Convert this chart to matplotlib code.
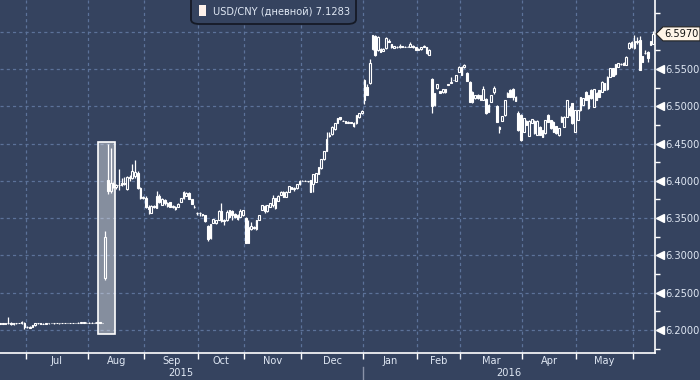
import matplotlib
matplotlib.use("Agg")
import matplotlib.pyplot as plt
from matplotlib.patches import FancyBboxPatch, Polygon, Rectangle
from matplotlib.transforms import blended_transform_factory
import numpy as np

plt.rcParams['font.family'] = ['DejaVu Sans']

# ---------------- data ----------------
month_labels = ["Jun", "Jul", "Aug", "Sep", "Oct", "Nov", "Dec", "Jan", "Feb", "Mar", "Apr", "May", "Jun"]
month_days = [10, 23, 21, 20, 17, 21, 23, 20, 16, 23, 20, 21, 8]
shown_month_labels = [False, True, True, True, True, True, True, True, True, True, True, True, False]
year_labels = ["2015", "2016"]
year_first_month = [0, 7]

opens = [
 6.2085, 6.2088, 6.2086, 6.2090, 6.2100, 6.2075, 6.2090, 6.2093, 6.2095, 6.2090,
 6.2035, 6.2045, 6.2040, 6.2062, 6.2092, 6.2090, 6.2080, 6.2082, 6.2088, 6.2092,
 6.2090, 6.2093, 6.2091, 6.2094, 6.2092, 6.2095, 6.2093, 6.2096, 6.2094, 6.2097,
 6.2095, 6.2102, 6.2098,
 6.2100, 6.2097, 6.2100, 6.2098, 6.2101, 6.2097, 6.2697, 6.4010, 6.3863, 6.3958,
 6.3918, 6.3950, 6.3945, 6.3970, 6.3890, 6.4050, 6.4041, 6.4060, 6.4100, 6.3900, 6.3770,
 6.3775, 6.3650, 6.3575, 6.3660, 6.3635, 6.3800, 6.3675, 6.3740, 6.3705, 6.3710,
 6.3655, 6.3653, 6.3655, 6.3720, 6.3765, 6.3800, 6.3840, 6.3756, 6.3652, 6.3575,
 6.3575, 6.3550, 6.3540, 6.3400, 6.3230, 6.3438, 6.3440, 6.3475, 6.3600, 6.3480,
 6.3470, 6.3510, 6.3590, 6.3557, 6.3485, 6.3520, 6.3540,
 6.3500, 6.3170, 6.3350, 6.3385, 6.3350, 6.3480, 6.3610, 6.3665, 6.3590, 6.3655,
 6.3676, 6.3765, 6.3733, 6.3810, 6.3854, 6.3787, 6.3854, 6.3915, 6.3895, 6.3900, 6.3957,
 6.4000, 6.4002, 6.3998, 6.4010, 6.3960, 6.3990, 6.4095, 6.4170, 6.4288, 6.4400,
 6.4610, 6.4627, 6.4700, 6.4780, 6.4850, 6.4808, 6.4800, 6.4775, 6.4790, 6.4780,
 6.4770, 6.4850, 6.4905,
 6.5083, 6.5262, 6.5307, 6.5762, 6.5940, 6.5750, 6.5770, 6.5740, 6.5775, 6.5880,
 6.5835, 6.5780, 6.5800, 6.5790, 6.5805, 6.5798, 6.5797, 6.5800, 6.5810, 6.5790,
 6.5760, 6.5765, 6.5800, 6.5797, 6.5690, 6.5360, 6.5012, 6.5240, 6.5205, 6.5186,
 6.5226, 6.5285, 6.5316, 6.5350, 6.5340, 6.5460,
 6.5530, 6.5520, 6.5450, 6.5328, 6.5060, 6.5106, 6.5150, 6.5083, 6.5083, 6.5100,
 6.4927, 6.5060, 6.5195, 6.5000, 6.4690, 6.4806, 6.4880, 6.5127, 6.5217, 6.5226,
 6.5127, 6.4905, 6.4880,
 6.4660, 6.4806, 6.4600, 6.4780, 6.4806, 6.4615, 6.4725, 6.4591, 6.4636, 6.4880,
 6.4815, 6.4790, 6.4735, 6.4615, 6.4790, 6.4725, 6.4860, 6.4980, 6.5040, 6.4658,
 6.4815, 6.4949, 6.5016, 6.5195, 6.4972, 6.5217, 6.4995, 6.5180, 6.5217, 6.5195,
 6.5307, 6.5226, 6.5396, 6.5510, 6.5430, 6.5530, 6.5560, 6.5585, 6.5553, 6.5775, 6.5790,
 6.5775, 6.5860, 6.5888, 6.5670, 6.5720, 6.5730, 6.5820, 6.5836,
]
highs = [
 6.2090, 6.2092, 6.2095, 6.2180, 6.2105, 6.2095, 6.2098, 6.2100, 6.2115, 6.2102,
 6.2055, 6.2050, 6.2068, 6.2098, 6.2100, 6.2095, 6.2090, 6.2092, 6.2095, 6.2096,
 6.2095, 6.2097, 6.2096, 6.2098, 6.2097, 6.2099, 6.2098, 6.2100, 6.2099, 6.2101,
 6.2104, 6.2106, 6.2103,
 6.2104, 6.2102, 6.2105, 6.2103, 6.2106, 6.2100, 6.3330, 6.4495, 6.4436, 6.3990,
 6.3960, 6.4154, 6.4040, 6.4050, 6.4060, 6.4080, 6.4220, 6.4280, 6.4130, 6.3920, 6.3800,
 6.3790, 6.3675, 6.3670, 6.3680, 6.3860, 6.3830, 6.3770, 6.3760, 6.3712, 6.3720,
 6.3680, 6.3660, 6.3700, 6.3775, 6.3860, 6.3850, 6.3845, 6.3760, 6.3670, 6.3580,
 6.3580, 6.3560, 6.3545, 6.3410, 6.3425, 6.3490, 6.3480, 6.3605, 6.3700, 6.3490,
 6.3610, 6.3615, 6.3610, 6.3565, 6.3560, 6.3620, 6.3615,
 6.3510, 6.3475, 6.3452, 6.3390, 6.3480, 6.3545, 6.3680, 6.3670, 6.3680, 6.3705,
 6.3810, 6.3775, 6.3805, 6.3860, 6.3860, 6.3858, 6.3935, 6.3920, 6.3915, 6.3960, 6.4005,
 6.4005, 6.4006, 6.4003, 6.4015, 6.4095, 6.4105, 6.4185, 6.4292, 6.4405, 6.4660,
 6.4650, 6.4730, 6.4780, 6.4845, 6.4855, 6.4812, 6.4805, 6.4800, 6.4795, 6.4785,
 6.4885, 6.4915, 6.4955,
 6.5360, 6.5300, 6.5630, 6.5960, 6.5960, 6.5945, 6.5780, 6.5775, 6.5930, 6.5895,
 6.5840, 6.5810, 6.5810, 6.5835, 6.5810, 6.5802, 6.5805, 6.5855, 6.5815, 6.5795,
 6.5775, 6.5800, 6.5818, 6.5800, 6.5765, 6.5375, 6.5180, 6.5300, 6.5210, 6.5235,
 6.5230, 6.5300, 6.5390, 6.5353, 6.5420, 6.5535,
 6.5540, 6.5560, 6.5455, 6.5335, 6.5200, 6.5155, 6.5160, 6.5155, 6.5265, 6.5110,
 6.5025, 6.5155, 6.5265, 6.5010, 6.4735, 6.4875, 6.5085, 6.5185, 6.5225, 6.5240,
 6.5135, 6.4930, 6.4890,
 6.4845, 6.4810, 6.4815, 6.4830, 6.4810, 6.4810, 6.4730, 6.4685, 6.4820, 6.4890,
 6.4820, 6.4800, 6.4740, 6.4710, 6.4865, 6.4865, 6.5090, 6.5000, 6.5045, 6.4955,
 6.4955, 6.5125, 6.5110, 6.5200, 6.5155, 6.5225, 6.5230, 6.5185, 6.5220, 6.5335,
 6.5310, 6.5400, 6.5515, 6.5515, 6.5570, 6.5580, 6.5578, 6.5590, 6.5670, 6.5860, 6.5870,
 6.5950, 6.5925, 6.5940, 6.5680, 6.5760, 6.5740, 6.5880, 6.6005,
]
lows = [
 6.2080, 6.2082, 6.2080, 6.2085, 6.2070, 6.2070, 6.2085, 6.2088, 6.2085, 6.2010,
 6.2025, 6.2028, 6.2038, 6.2060, 6.2085, 6.2075, 6.2078, 6.2080, 6.2085, 6.2088,
 6.2086, 6.2089, 6.2087, 6.2090, 6.2088, 6.2090, 6.2089, 6.2091, 6.2090, 6.2093,
 6.2092, 6.2096, 6.2094,
 6.2095, 6.2093, 6.2096, 6.2094, 6.2096, 6.2093, 6.2670, 6.3830, 6.3840, 6.3900,
 6.3890, 6.3880, 6.3930, 6.3940, 6.3880, 6.4000, 6.4030, 6.4040, 6.3890, 6.3760, 6.3750,
 6.3640, 6.3560, 6.3570, 6.3630, 6.3630, 6.3700, 6.3670, 6.3680, 6.3655, 6.3650,
 6.3640, 6.3615, 6.3650, 6.3715, 6.3760, 6.3795, 6.3750, 6.3685, 6.3630, 6.3540,
 6.3530, 6.3535, 6.3450, 6.3200, 6.3225, 6.3430, 6.3420, 6.3470, 6.3450, 6.3410,
 6.3465, 6.3500, 6.3480, 6.3505, 6.3470, 6.3515, 6.3530,
 6.3165, 6.3165, 6.3345, 6.3360, 6.3345, 6.3475, 6.3605, 6.3565, 6.3585, 6.3650,
 6.3650, 6.3620, 6.3728, 6.3805, 6.3780, 6.3780, 6.3850, 6.3890, 6.3865, 6.3895, 6.3950,
 6.3995, 6.3996, 6.3990, 6.3850, 6.3855, 6.3985, 6.4090, 6.4165, 6.4280, 6.4395,
 6.4585, 6.4620, 6.4680, 6.4775, 6.4820, 6.4800, 6.4770, 6.4770, 6.4770, 6.4720,
 6.4765, 6.4845, 6.4900,
 6.5030, 6.5145, 6.5300, 6.5755, 6.5680, 6.5745, 6.5725, 6.5735, 6.5770, 6.5860,
 6.5785, 6.5775, 6.5780, 6.5785, 6.5795, 6.5792, 6.5790, 6.5795, 6.5785, 6.5750,
 6.5755, 6.5760, 6.5790, 6.5700, 6.5685, 6.4913, 6.5000, 6.5235, 6.5175, 6.5180,
 6.5180, 6.5280, 6.5310, 6.5346, 6.5335, 6.5455,
 6.5415, 6.5515, 6.5335, 6.5055, 6.5040, 6.5100, 6.5100, 6.5080, 6.5078, 6.4900,
 6.4920, 6.5055, 6.5170, 6.4785, 6.4640, 6.4800, 6.4875, 6.5120, 6.5120, 6.5080,
 6.5070, 6.4670, 6.4540,
 6.4650, 6.4750, 6.4595, 6.4775, 6.4630, 6.4610, 6.4610, 6.4585, 6.4630, 6.4790,
 6.4700, 6.4655, 6.4630, 6.4605, 6.4785, 6.4720, 6.4855, 6.4875, 6.4765, 6.4650,
 6.4810, 6.4940, 6.5010, 6.5080, 6.4965, 6.5100, 6.4990, 6.5080, 6.5120, 6.5190,
 6.5215, 6.5220, 6.5390, 6.5400, 6.5425, 6.5525, 6.5555, 6.5555, 6.5548, 6.5770, 6.5785,
 6.5770, 6.5840, 6.5480, 6.5590, 6.5705, 6.5590, 6.5815, 6.5830,
]
closes = [
 6.2088, 6.2086, 6.2090, 6.2095, 6.2075, 6.2090, 6.2093, 6.2095, 6.2108, 6.2035,
 6.2045, 6.2032, 6.2062, 6.2092, 6.2090, 6.2080, 6.2082, 6.2088, 6.2092, 6.2090,
 6.2093, 6.2091, 6.2094, 6.2092, 6.2095, 6.2093, 6.2096, 6.2094, 6.2097, 6.2095,
 6.2102, 6.2098, 6.2100,
 6.2097, 6.2100, 6.2098, 6.2101, 6.2097, 6.2097, 6.3246, 6.3870, 6.3975, 6.3918,
 6.3950, 6.3940, 6.3970, 6.3955, 6.4050, 6.4040, 6.4136, 6.4120, 6.3900, 6.3770, 6.3780,
 6.3650, 6.3620, 6.3660, 6.3650, 6.3800, 6.3720, 6.3756, 6.3700, 6.3662, 6.3655,
 6.3660, 6.3620, 6.3690, 6.3765, 6.3854, 6.3840, 6.3756, 6.3690, 6.3648, 6.3570,
 6.3570, 6.3540, 6.3455, 6.3216, 6.3420, 6.3484, 6.3475, 6.3600, 6.3455, 6.3460,
 6.3585, 6.3605, 6.3540, 6.3510, 6.3545, 6.3600, 6.3610,
 6.3170, 6.3385, 6.3395, 6.3365, 6.3475, 6.3540, 6.3675, 6.3600, 6.3676, 6.3700,
 6.3765, 6.3640, 6.3800, 6.3854, 6.3787, 6.3850, 6.3930, 6.3895, 6.3910, 6.3957, 6.4000,
 6.4002, 6.4000, 6.3995, 6.3854, 6.4087, 6.4100, 6.4180, 6.4288, 6.4400, 6.4556,
 6.4595, 6.4725, 6.4770, 6.4838, 6.4828, 6.4806, 6.4772, 6.4795, 6.4775, 6.4730,
 6.4880, 6.4910, 6.4936,
 6.5350, 6.5150, 6.5575, 6.5954, 6.5686, 6.5930, 6.5730, 6.5770, 6.5910, 6.5865,
 6.5790, 6.5806, 6.5790, 6.5805, 6.5800, 6.5797, 6.5800, 6.5835, 6.5790, 6.5755,
 6.5770, 6.5797, 6.5812, 6.5707, 6.5760, 6.5000, 6.5173, 6.5297, 6.5180, 6.5230,
 6.5186, 6.5295, 6.5320, 6.5351, 6.5413, 6.5530,
 6.5420, 6.5550, 6.5340, 6.5060, 6.5195, 6.5150, 6.5110, 6.5150, 6.5225, 6.4905,
 6.5016, 6.5150, 6.5240, 6.4793, 6.4725, 6.4869, 6.5080, 6.5180, 6.5127, 6.5130,
 6.5075, 6.4680, 6.4547,
 6.4838, 6.4755, 6.4806, 6.4825, 6.4637, 6.4806, 6.4615, 6.4680, 6.4815, 6.4795,
 6.4705, 6.4660, 6.4640, 6.4704, 6.4860, 6.4859, 6.5083, 6.4885, 6.4770, 6.4949,
 6.4949, 6.5120, 6.5106, 6.5083, 6.5150, 6.5106, 6.5226, 6.5083, 6.5127, 6.5328,
 6.5217, 6.5396, 6.5510, 6.5405, 6.5566, 6.5575, 6.5572, 6.5558, 6.5665, 6.5853, 6.5866,
 6.5878, 6.5870, 6.5485, 6.5597, 6.5710, 6.5642, 6.5876, 6.5970,
]

y_major_ticks = [6.20, 6.25, 6.30, 6.35, 6.40, 6.45, 6.50, 6.55, 6.60]
y_labelled_ticks = [6.20, 6.25, 6.30, 6.35, 6.40, 6.45, 6.50, 6.55]
y_minor_ticks = [6.175, 6.225, 6.275, 6.325, 6.375, 6.425, 6.475, 6.525, 6.575, 6.625]
legend_text = "USD/CNY (дневной) 7.1283"
last_label = "6.5970"
last_value = 6.5970

# highlighted window around the August 2015 devaluation (index range, value range)
highlight_idx = (36.4, 42.5)
highlight_val = (6.1946, 6.452)

# ---------------- style ----------------
BG = "#35435f"
GRID = "#5c7299"
FG = "#dfe7f3"
WHITE = "#ffffff"
FS = 7.1

W, H = 700, 380
fig = plt.figure(figsize=(W / 100, H / 100), dpi=100)
fig.patch.set_facecolor(BG)
ax_left, ax_right, ax_top, ax_bottom = 0, 655, 0, 353
ax = fig.add_axes([ax_left / W, 1 - ax_bottom / H, (ax_right - ax_left) / W, (ax_bottom - ax_top) / H])
ax.set_facecolor(BG)

n = len(closes)
idx = np.arange(n)
ax.set_xlim(-0.02, n - 0.35)
ax.set_ylim(6.1692, 6.6424)

# month boundaries
bounds = np.cumsum([0] + month_days)
tick_pos = [b - 0.5 for b in bounds[1:-1]]
ax.set_xticks(tick_pos)
ax.set_xticklabels([])
ax.tick_params(axis='x', which='major', length=4, width=1, color=WHITE, direction='out')

for t in tick_pos:
    ax.axvline(t, color=GRID, lw=0.9, ls=(0, (2.5, 2.5)), zorder=0)
for t in y_major_ticks:
    ax.axhline(t, color=GRID, lw=0.9, ls=(0, (2.5, 2.5)), zorder=0)

# spines
for s in ['top', 'left']:
    ax.spines[s].set_visible(False)
for s in ['right', 'bottom']:
    ax.spines[s].set_color(WHITE)
    ax.spines[s].set_linewidth(1.2)

# y axis on the right
ax.yaxis.tick_right()
ax.set_yticks(y_labelled_ticks)
ax.set_yticklabels([f"{v:.4f}" for v in y_labelled_ticks])
ax.set_yticks(y_minor_ticks, minor=True)
ax.tick_params(axis='y', which='major', length=0, pad=7.2, labelsize=FS, labelcolor=FG)
ax.tick_params(axis='y', which='minor', length=3.5, width=1, color=WHITE, direction='out')
trans_y = blended_transform_factory(ax.transAxes, ax.transData)
ax.plot([1.0 + 4.5 / 655] * len(y_labelled_ticks), y_labelled_ticks, marker='<', ls='none',
        ms=5.5, color=WHITE, mec=WHITE, transform=trans_y, clip_on=False)

# candles
o = np.array(opens); h = np.array(highs); l = np.array(lows); c = np.array(closes)
up = c >= o
ax.vlines(idx, l, h, color=WHITE, lw=0.9, zorder=3)
body_lo = np.minimum(o, c)
body_h = np.abs(c - o)
ax.bar(idx[up], body_h[up], bottom=body_lo[up], width=0.62, color=BG, edgecolor=WHITE,
       linewidth=0.8, zorder=4)
ax.bar(idx[~up], body_h[~up], bottom=body_lo[~up], width=0.62, color=WHITE, edgecolor=WHITE,
       linewidth=0.8, zorder=4)

# highlight box
ax.add_patch(Rectangle((highlight_idx[0], highlight_val[0]), highlight_idx[1] - highlight_idx[0],
                       highlight_val[1] - highlight_val[0], facecolor=(1, 1, 1, 0.40),
                       edgecolor=WHITE, linewidth=1.2, zorder=5))

# month labels
trans_x = blended_transform_factory(ax.transData, fig.transFigure)
for i, name in enumerate(month_labels):
    if not shown_month_labels[i]:
        continue
    centre = (bounds[i] + bounds[i + 1] - 1) / 2
    ax.text(centre, 1 - 361 / H, name, transform=trans_x, ha='center', va='center',
            fontsize=FS, color=FG)
# year labels
year_edges = [-0.5, bounds[year_first_month[1]] - 0.5, n - 0.35]
for k, yl in enumerate(year_labels):
    centre = (year_edges[k] + year_edges[k + 1]) / 2
    ax.text(centre, 1 - 373.5 / H, yl, transform=trans_x, ha='center', va='center',
            fontsize=FS, color=FG)
# year separator
sep = bounds[year_first_month[1]] - 0.5
ax.plot([sep, sep], [1 - 367 / H, 0], transform=trans_x, color="#8a93a8", lw=1, clip_on=False)

# legend box
leg = FancyBboxPatch((191 / W, 1 - 24 / H), (356 - 191) / W, 40 / H,
                     boxstyle="round,pad=0,rounding_size=0.012", transform=fig.transFigure,
                     facecolor=BG, edgecolor="#151a26", linewidth=1.3, zorder=10, clip_on=False)
fig.patches.append(leg)
fig.patches.append(Rectangle((199 / W, 1 - 16 / H), 7 / W, 10.5 / H, transform=fig.transFigure,
                             facecolor="#fdf1ea", edgecolor='none', zorder=11))
fig.text(213 / W, 1 - 11 / H, legend_text, ha='left', va='center', fontsize=FS, color=FG, zorder=12)

# last value label
yl_px = ax.transData.transform((0, last_value))[1]
fig_h_px = fig.bbox.height
yc = yl_px / fig_h_px
hh = 7 / H
poly = Polygon([(656 / W, yc), (663 / W, yc + hh), (700 / W, yc + hh), (700 / W, yc - hh), (663 / W, yc - hh)],
               closed=True, transform=fig.transFigure, facecolor="#fff5e8", edgecolor="#222222",
               linewidth=0.8, zorder=12)
fig.patches.append(poly)
fig.text(664 / W, yc, last_label, ha='left', va='center', fontsize=FS, color="#111111", zorder=13)

fig.savefig("out.png", dpi=100, facecolor=BG)
